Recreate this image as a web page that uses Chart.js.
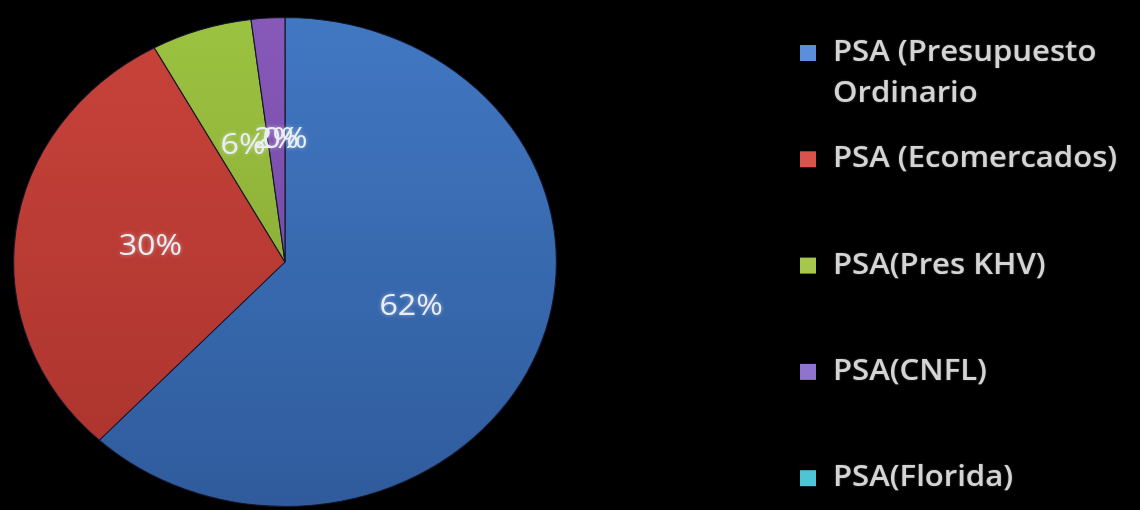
<!DOCTYPE html>
<html>
<head>
<meta charset="utf-8">
<script src="https://cdn.jsdelivr.net/npm/chart.js@4.4.1/dist/chart.umd.min.js"></script>
<style>
  html, body { margin: 0; padding: 0; background: #000; }
  #wrap { width: 1140px; height: 510px; position: relative; }
</style>
</head>
<body>
<div id="wrap"><canvas id="c" width="1140" height="510"></canvas></div>
<script>
// ---- data ----
const categories = ['PSA (Presupuesto Ordinario', 'PSA (Ecomercados)', 'PSA(Pres KHV)', 'PSA(CNFL)', 'PSA(Florida)'];
const legendLines = [['PSA (Presupuesto', 'Ordinario'], ['PSA (Ecomercados)'], ['PSA(Pres KHV)'], ['PSA(CNFL)'], ['PSA(Florida)']];
const values = [62, 30, 6, 2, 0];
const topColors = ['#4178c2', '#c8433a', '#9cc241', '#8759b9', '#4bb6cc'];
const bottomColors = ['#2f5b9c', '#a9332d', '#80a12f', '#693f98', '#3a95ab'];
const swatchColors = ['#5b8fdb', '#d9524c', '#a6c64c', '#9073cf', '#4fc4d6'];

const SX = 1.11; // horizontal stretch of the picture

function sliceFill(ctx) {
  const i = ctx.dataIndex;
  const chart = ctx.chart;
  const area = chart.chartArea;
  if (!area || i === undefined) return topColors[i || 0];
  const g = chart.ctx.createLinearGradient(0, area.top, 0, area.bottom);
  g.addColorStop(0, topColors[i]);
  g.addColorStop(1, bottomColors[i]);
  return g;
}

const stretchPlugin = {
  id: 'stretch',
  beforeDatasetsDraw(chart) {
    const a = chart.getDatasetMeta(0).data[0];
    const ctx = chart.ctx;
    ctx.save();
    ctx.translate(a.x, a.y);
    ctx.scale(SX, 1);
    ctx.translate(-a.x, -a.y);
  },
  afterDatasetsDraw(chart) {
    const ctx = chart.ctx;
    ctx.restore();
    // percentage labels
    const meta = chart.getDatasetMeta(0);
    const ds = chart.data.datasets[0].data;
    const total = ds.reduce((s, v) => s + v, 0);
    ctx.save();
    ctx.font = '500 29px "Open Sans"';
    ctx.textAlign = 'center';
    ctx.textBaseline = 'middle';
    ctx.fillStyle = '#e9eef6';
    ctx.shadowColor = 'rgba(255,255,255,0.45)';
    ctx.shadowBlur = 4;
    meta.data.forEach((arc, i) => {
      const p = arc.getProps(['x', 'y', 'startAngle', 'endAngle', 'outerRadius'], true);
      const mid = (p.startAngle + p.endAngle) / 2;
      const r = p.outerRadius * 0.5;
      const px = p.x + Math.cos(mid) * r * SX;
      const py = p.y + Math.sin(mid) * r;
      const txt = Math.round(ds[i] / total * 100) + '%';
      ctx.save();
      ctx.translate(px, py);
      ctx.scale(SX, 1);
      ctx.fillText(txt, 0, 0);
      ctx.restore();
    });
    ctx.restore();
  }
};

const legendPlugin = {
  id: 'customLegend',
  afterDraw(chart) {
    const ctx = chart.ctx;
    const x0 = 800, tx = 833, y0 = 53, step = 106.3, lineH = 41;
    ctx.save();
    ctx.textBaseline = 'middle';
    ctx.textAlign = 'left';
    ctx.font = '600 28px "Open Sans"';
    legendLines.forEach((lines, i) => {
      const y = y0 + i * step;
      ctx.fillStyle = swatchColors[i];
      ctx.fillRect(x0, y - 8, 16, 16);
      ctx.fillStyle = '#d4d4d4';
      ctx.shadowColor = 'rgba(255,255,255,0.3)';
      ctx.shadowBlur = 2;
      lines.forEach((ln, j) => {
        ctx.save();
        ctx.translate(tx, y + j * lineH);
        ctx.scale(1.11, 1);
        ctx.fillText(ln, 0, 0);
        ctx.restore();
      });
      ctx.shadowBlur = 0;
    });
    ctx.restore();
  }
};

new Chart(document.getElementById('c'), {
  type: 'pie',
  data: {
    labels: categories,
    datasets: [{
      data: values,
      backgroundColor: sliceFill,
      borderColor: '#15152a',
      borderWidth: 1
    }]
  },
  options: {
    responsive: false,
    animation: false,
    layout: { padding: { left: 40, right: 610, top: 16, bottom: 2 } },
    plugins: {
      legend: { display: false },
      tooltip: { enabled: false }
    }
  },
  plugins: [stretchPlugin, legendPlugin]
});
</script>
</body>
</html>
